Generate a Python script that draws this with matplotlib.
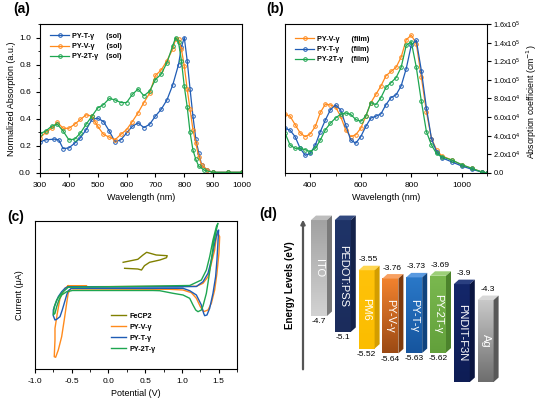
import numpy as np
import matplotlib
matplotlib.use("Agg")
import matplotlib.pyplot as plt
from matplotlib.ticker import MultipleLocator, FuncFormatter, FormatStrFormatter
from matplotlib.patches import Polygon
from matplotlib.colors import LinearSegmentedColormap

plt.rcParams['font.family'] = ['Liberation Sans', 'DejaVu Sans']
plt.rcParams['font.size'] = 6.5
plt.rcParams['axes.unicode_minus'] = False
plt.rcParams['xtick.direction'] = 'out'
plt.rcParams['ytick.direction'] = 'out'
plt.rcParams['xtick.major.size'] = 3
plt.rcParams['ytick.major.size'] = 3
plt.rcParams['xtick.minor.size'] = 1.8
plt.rcParams['ytick.minor.size'] = 1.8
plt.rcParams['axes.linewidth'] = 0.8

C_BLUE = '#1f5cb5'
C_ORANGE = '#ff8a1c'
C_GREEN = '#1ea650'
C_OLIVE = '#808000'

# ---------------- (a) solution absorption ----------------
wl_T_sol = [300, 320, 350, 365, 380, 400, 420, 440, 460, 480, 500, 520, 540, 560, 580, 600, 620, 640,
            660, 680, 700, 720, 740, 760, 780, 790, 800, 810, 820, 830, 840, 850, 860, 880, 900, 950, 1000]
abs_T_sol = [0.23, 0.245, 0.25, 0.245, 0.18, 0.185, 0.22, 0.26, 0.32, 0.395, 0.405, 0.38, 0.31, 0.23,
             0.245, 0.295, 0.345, 0.37, 0.335, 0.36, 0.42, 0.47, 0.54, 0.65, 0.80, 0.93, 1.0, 0.83,
             0.62, 0.42, 0.25, 0.15, 0.06, 0.02, 0.005, 0.005, 0.005]
wl_V_sol = [300, 320, 340, 360, 380, 400, 420, 440, 460, 480, 490, 500, 520, 540, 560, 580, 600, 620,
            640, 660, 680, 700, 720, 740, 760, 770, 780, 790, 800, 810, 820, 830, 840, 850, 860, 880,
            900, 950, 1000]
abs_V_sol = [0.26, 0.30, 0.33, 0.375, 0.33, 0.33, 0.36, 0.395, 0.43, 0.42, 0.38, 0.345, 0.285, 0.265,
             0.245, 0.285, 0.32, 0.38, 0.445, 0.52, 0.59, 0.72, 0.76, 0.83, 0.915, 0.99, 0.99, 0.915,
             0.79, 0.62, 0.47, 0.32, 0.22, 0.12, 0.06, 0.02, 0.005, 0.005, 0.005]
wl_2T_sol = [300, 320, 340, 360, 380, 400, 420, 440, 460, 480, 500, 520, 540, 560, 580, 600, 620, 640,
             660, 680, 700, 720, 740, 760, 770, 780, 790, 800, 810, 820, 830, 840, 850, 870, 900, 950, 1000]
abs_2T_sol = [0.29, 0.31, 0.345, 0.36, 0.31, 0.245, 0.25, 0.295, 0.36, 0.42, 0.48, 0.505, 0.55, 0.54,
              0.52, 0.52, 0.58, 0.62, 0.57, 0.605, 0.69, 0.73, 0.815, 0.94, 1.0, 0.965, 0.83, 0.64,
              0.49, 0.30, 0.17, 0.10, 0.05, 0.02, 0.005, 0.005, 0.005]

# ---------------- (b) film absorption coefficient (cm^-1) ----------------
wl_film = [300, 320, 340, 360, 380, 400, 420, 440, 460, 480, 500, 520, 540, 560, 580, 600, 620, 640,
           660, 680, 700, 720, 740, 760, 780, 800, 820, 840, 860, 880, 900, 920, 960, 1000, 1040,
           1080, 1100]
coef_V_film = [6.3e4, 6.1e4, 5.2e4, 4.3e4, 3.9e4, 4.2e4, 5.0e4, 6.5e4, 7.4e4, 7.3e4, 7.1e4, 6.1e4,
               4.65e4, 3.9e4, 4.1e4, 4.8e4, 6.1e4, 7.55e4, 8.45e4, 9.35e4, 1.045e5, 1.09e5, 1.135e5,
               1.245e5, 1.43e5, 1.48e5, 1.39e5, 1.03e5, 6.6e4, 3.7e4, 2.5e4, 1.85e4, 1.4e4, 8.5e3,
               5.0e3, 1.0e3, 0.0]
coef_T_film = [4.8e4, 4.6e4, 3.9e4, 2.65e4, 1.9e4, 2.1e4, 3.0e4, 4.45e4, 5.7e4, 6.8e4, 7.3e4, 6.8e4,
               5.2e4, 3.55e4, 3.2e4, 3.9e4, 5.0e4, 5.9e4, 6.1e4, 6.35e4, 7.35e4, 8.1e4, 8.4e4,
               9.35e4, 1.12e5, 1.37e5, 1.425e5, 1.10e5, 7.0e4, 3.7e4, 2.3e4, 1.65e4, 1.2e4, 7.5e3,
               4.0e3, 1.0e3, 0.0]
coef_2T_film = [4.3e4, 3.0e4, 2.65e4, 2.65e4, 2.5e4, 2.3e4, 2.65e4, 3.55e4, 4.65e4, 5.35e4, 5.9e4,
                6.3e4, 6.45e4, 6.3e4, 5.75e4, 5.55e4, 6.1e4, 7.55e4, 7.35e4, 8.1e4, 9.2e4, 9.7e4,
                1.025e5, 1.135e5, 1.37e5, 1.41e5, 1.135e5, 7.7e4, 4.45e4, 3.0e4, 2.1e4, 1.75e4,
                1.4e4, 9.0e3, 5.0e3, 1.0e3, 0.0]

# ---------------- (c) cyclic voltammetry (arbitrary current units) ----------------
E_fc = [0.20, 0.40, 0.47, 0.52, 0.65, 0.80, 0.79, 0.70, 0.56, 0.49, 0.45, 0.40, 0.22]
I_fc = [3.77, 4.07, 4.5, 4.77, 4.5, 4.43, 4.23, 4.0, 3.77, 3.43, 3.0, 3.1, 3.17]

E_V = [-0.548, -0.298, -0.293, 0.834, 1.197, 1.287, 1.355, 1.401, 1.446, 1.469, 1.490, 1.514, 1.504,
       1.477, 1.446, 1.401, 1.355, 1.296, 1.251, 1.197, 1.129, 1.015, 0.834, -0.484, -0.511, -0.548,
       -0.569, -0.602, -0.637, -0.683, -0.719, -0.738, -0.728, -0.728, -0.700, -0.660, -0.592, -0.548]
I_V = [1.43, 1.43, 1.33, 1.37, 1.37, 1.67, 2.33, 3.67, 5.0, 6.33, 6.67, 6.33, 4.67, 2.67, 1.0, -0.33,
       -1.0, -1.17, -0.67, 0.17, 0.73, 1.0, 1.07, 1.1, 1.17, 0.67, -0.33, -2.0, -3.67, -5.0, -5.73,
       -5.67, -4.0, -2.83, -1.5, 0.17, 1.17, 1.43]

E_T = [-0.548, 0.943, 1.197, 1.287, 1.355, 1.401, 1.446, 1.482, 1.500, 1.490, 1.477, 1.459, 1.423,
       1.378, 1.341, 1.310, 1.296, 1.265, 1.197, 1.106, 1.015, 0.834, -0.484, -0.501, -0.548, -0.569,
       -0.602, -0.629, -0.660, -0.705, -0.728, -0.751, -0.751, -0.719, -0.683, -0.637, -0.592, -0.548]
I_T = [1.33, 1.33, 1.35, 1.83, 2.67, 4.0, 5.67, 6.83, 7.0, 5.67, 4.0, 2.33, 0.67, -0.83, -1.5, -1.57,
       -1.33, -0.5, 0.5, 0.93, 1.17, 1.17, 1.17, 1.17, 0.93, 0.5, -0.33, -1.0, -1.67, -1.93, -2.0,
       -1.57, -1.0, -0.33, 0.33, 0.83, 1.17, 1.33]

E_2T = [-0.548, 1.106, 1.265, 1.333, 1.378, 1.423, 1.469, 1.490, 1.469, 1.432, 1.401, 1.368, 1.333,
        1.287, 1.265, 1.219, 1.188, 1.151, 1.106, 1.015, 0.879, 0.698, 0.603, -0.497, -0.501, -0.569,
        -0.637, -0.674, -0.705, -0.728, -0.751, -0.738, -0.705, -0.660, -0.615, -0.548]
I_2T = [1.27, 1.45, 2.0, 3.0, 4.33, 6.0, 7.33, 7.67, 7.0, 5.67, 4.0, 2.33, 0.67, -0.6, -1.0, -1.17,
        -1.0, -0.5, 0.17, 0.5, 0.67, 0.93, 0.95, 0.95, 0.93, 0.83, 0.5, 0.0, -0.67, -1.33, -1.5,
        -0.67, 0.0, 0.5, 0.83, 1.27]

# ---------------- (d) energy levels (eV) ----------------
layer_names = ["ITO", "PEDOT:PSS", "PM6", "PY-V-γ", "PY-T-γ", "PY-2T-γ", "PNDIT-F3N", "Ag"]
level_top = [-2.29, -2.29, -3.55, -3.76, -3.73, -3.69, -3.9, -4.3]
level_bottom = [-4.7, -5.1, -5.52, -5.64, -5.63, -5.62, -6.36, -6.36]
top_labeled = [False, False, True, True, True, True, True, True]
bottom_labeled = [True, True, True, True, True, True, False, False]

W, H = 543, 399
fig = plt.figure(figsize=(W / 100, H / 100), dpi=100)


def fr(x0, y0, x1, y1):
    return [x0 / W, 1 - y1 / H, (x1 - x0) / W, (y1 - y0) / H]


def style_line(ax, x, y, color, label):
    ax.plot(x, y, '-', color=color, lw=0.9, marker='o', ms=2.6, mfc='none', mew=0.7, label=label)


# (a)
axa = fig.add_axes(fr(40, 24, 242, 173))
style_line(axa, wl_T_sol, abs_T_sol, C_BLUE, "PY-T-γ      (sol)")
style_line(axa, wl_V_sol, abs_V_sol, C_ORANGE, "PY-V-γ      (sol)")
style_line(axa, wl_2T_sol, abs_2T_sol, C_GREEN, "PY-2T-γ    (sol)")
axa.set_xlim(300, 1000)
axa.set_ylim(0, 1.1)
axa.xaxis.set_major_locator(MultipleLocator(100))
axa.yaxis.set_major_locator(MultipleLocator(0.2))
axa.yaxis.set_minor_locator(MultipleLocator(0.1))
axa.yaxis.set_major_formatter(FormatStrFormatter('%.1f'))
axa.tick_params(labelsize=6)
axa.set_xlabel("Wavelength (nm)", fontsize=6.5, labelpad=3)
axa.set_ylabel("Normalized Absorption (a.u.)", fontsize=6.5, labelpad=2)
axa.legend(loc='upper left', bbox_to_anchor=(0.03, 0.97), frameon=False,
           prop={'weight': 'bold', 'size': 5.2}, handlelength=2.6, labelspacing=0.45,
           handletextpad=0.4, borderaxespad=0.2)

# (b)
axb = fig.add_axes(fr(285, 24, 487, 173))
style_line(axb, wl_film, coef_V_film, C_ORANGE, "PY-V-γ      (film)")
style_line(axb, wl_film, coef_T_film, C_BLUE, "PY-T-γ      (film)")
style_line(axb, wl_film, coef_2T_film, C_GREEN, "PY-2T-γ    (film)")
axb.set_xlim(300, 1100)
axb.set_ylim(0, 1.6e5)
axb.xaxis.set_major_locator(MultipleLocator(200))
axb.xaxis.set_minor_locator(MultipleLocator(100))
axb.yaxis.set_major_locator(MultipleLocator(2e4))
axb.yaxis.tick_right()
axb.yaxis.set_label_position('right')


def sci_fmt(v, pos):
    if abs(v) < 1e-6:
        return "0.0"
    if v < 0:
        return ""
    e = int(np.floor(np.log10(v) + 1e-9))
    m = v / 10 ** e
    return r"%.1fx10$^{%d}$" % (m, e)


axb.yaxis.set_major_formatter(FuncFormatter(sci_fmt))
axb.tick_params(axis='x', labelsize=6)
axb.tick_params(axis='y', labelsize=5.3, pad=1.5)
axb.set_xlabel("Wavelength (nm)", fontsize=6.5, labelpad=3)
axb.set_ylabel("Absorption coefficient (cm$^{-1}$)", fontsize=6.3, rotation=90,
               ha='center', va='center')
axb.yaxis.set_label_coords((532 - 285) / 202, (173 - 102) / 149)
axb.legend(loc='upper left', bbox_to_anchor=(0.03, 0.95), frameon=False,
           prop={'weight': 'bold', 'size': 5.2}, handlelength=2.6, labelspacing=0.45,
           handletextpad=0.4, borderaxespad=0.2)

# (c)
axc = fig.add_axes(fr(35, 221, 237, 369))
axc.plot(E_fc, I_fc, color=C_OLIVE, lw=1.0, label="FeCP2")
axc.plot(E_V, I_V, color=C_ORANGE, lw=1.0, label="PY-V-γ")
axc.plot(E_T, I_T, color=C_BLUE, lw=1.0, label="PY-T-γ")
axc.plot(E_2T, I_2T, color=C_GREEN, lw=1.0, label="PY-2T-γ")
axc.set_xlim(-1.0, 1.75)
axc.set_ylim(-6.9, 7.9)
axc.set_yticks([])
axc.xaxis.set_major_locator(MultipleLocator(0.5))
axc.xaxis.set_minor_locator(MultipleLocator(0.25))
axc.xaxis.set_major_formatter(FormatStrFormatter('%.1f'))
axc.tick_params(labelsize=6)
axc.set_xlabel("Potential (V)", fontsize=6.5, labelpad=3)
axc.set_ylabel("Current (μA)", fontsize=6.5, labelpad=8)
axc.legend(loc='upper left', bbox_to_anchor=(0.36, 0.40), frameon=False,
           prop={'weight': 'bold', 'size': 5.2}, handlelength=2.2, labelspacing=0.55,
           handletextpad=0.4, borderaxespad=0.0)

# (d) energy diagram
axd = fig.add_axes(fr(290, 210, 500, 390))
axd.axis('off')

front_cols = [('#a2a2a2', '#d2d2d2'), ('#1f3468', '#1b2c5c'), ('#ffc20a', '#fbbd00'),
              ('#f2822e', '#9c4a14'), ('#2a78c8', '#16559e'), ('#7ab84f', '#62a03b'),
              ('#14276a', '#0e1d55'), ('#c8c8c8', '#6e6e6e')]
side_cols = ['#7a7a7a', '#14224a', '#d39d00', '#7e3a0c', '#0f437e', '#4c832c', '#0a1540', '#585858']
topf_cols = ['#bdbdbd', '#32497f', '#ffd64f', '#f7a062', '#5a9ae0', '#9ccf78', '#2a3f80', '#d8d8d8']

slot, bw, dxp, dye = 23.8, 16.0, 5.0, 0.113
for i, name in enumerate(layer_names):
    x0 = 21 + slot * i
    top, bot = level_top[i], level_bottom[i]
    cmap = LinearSegmentedColormap.from_list('g%d' % i, [front_cols[i][1], front_cols[i][0]])
    grad = np.linspace(0, 1, 64).reshape(-1, 1)
    axd.imshow(grad, extent=[x0, x0 + bw, bot, top], origin='lower', aspect='auto', cmap=cmap,
               zorder=2, interpolation='bilinear')
    axd.add_patch(Polygon([(x0, top), (x0 + bw, top), (x0 + bw + dxp, top + dye), (x0 + dxp, top + dye)],
                          closed=True, fc=topf_cols[i], ec='none', zorder=3))
    axd.add_patch(Polygon([(x0 + bw, top), (x0 + bw + dxp, top + dye), (x0 + bw + dxp, bot + dye),
                           (x0 + bw, bot)], closed=True, fc=side_cols[i], ec='none', zorder=3))
    axd.text(x0 + bw / 2, (top + bot) / 2, name, rotation=-90, ha='center', va='center',
             color='white', fontsize=8, zorder=4)
    if top_labeled[i]:
        axd.text(x0 + bw / 2 + 2, top + dye + 0.06, "%g" % top, ha='center', va='bottom',
                 fontsize=6, zorder=4)
    if bottom_labeled[i]:
        axd.text(x0 + bw / 2, bot - 0.06, "%g" % bot, ha='center', va='top', fontsize=6, zorder=4)

axd.set_xlim(0, 210)
axd.set_ylim(-6.56, -2.037)
axd.annotate('', xy=(13, -2.21), xytext=(13, -6.11),
             arrowprops=dict(arrowstyle='-|>', color='#555555', lw=1.6, mutation_scale=6))
fig.text(290 / W, 1 - 285 / H, "Energy Levels (eV)", rotation=90, ha='center', va='center',
         fontsize=7, fontweight='bold')

# panel labels
for lab, x, y in [("(a)", 22, 9), ("(b)", 275, 9), ("(c)", 15.5, 216.5), ("(d)", 268, 214)]:
    fig.text(x / W, 1 - y / H, lab, ha='center', va='center', fontsize=10, fontweight='bold')

fig.savefig("out.png", dpi=100)
